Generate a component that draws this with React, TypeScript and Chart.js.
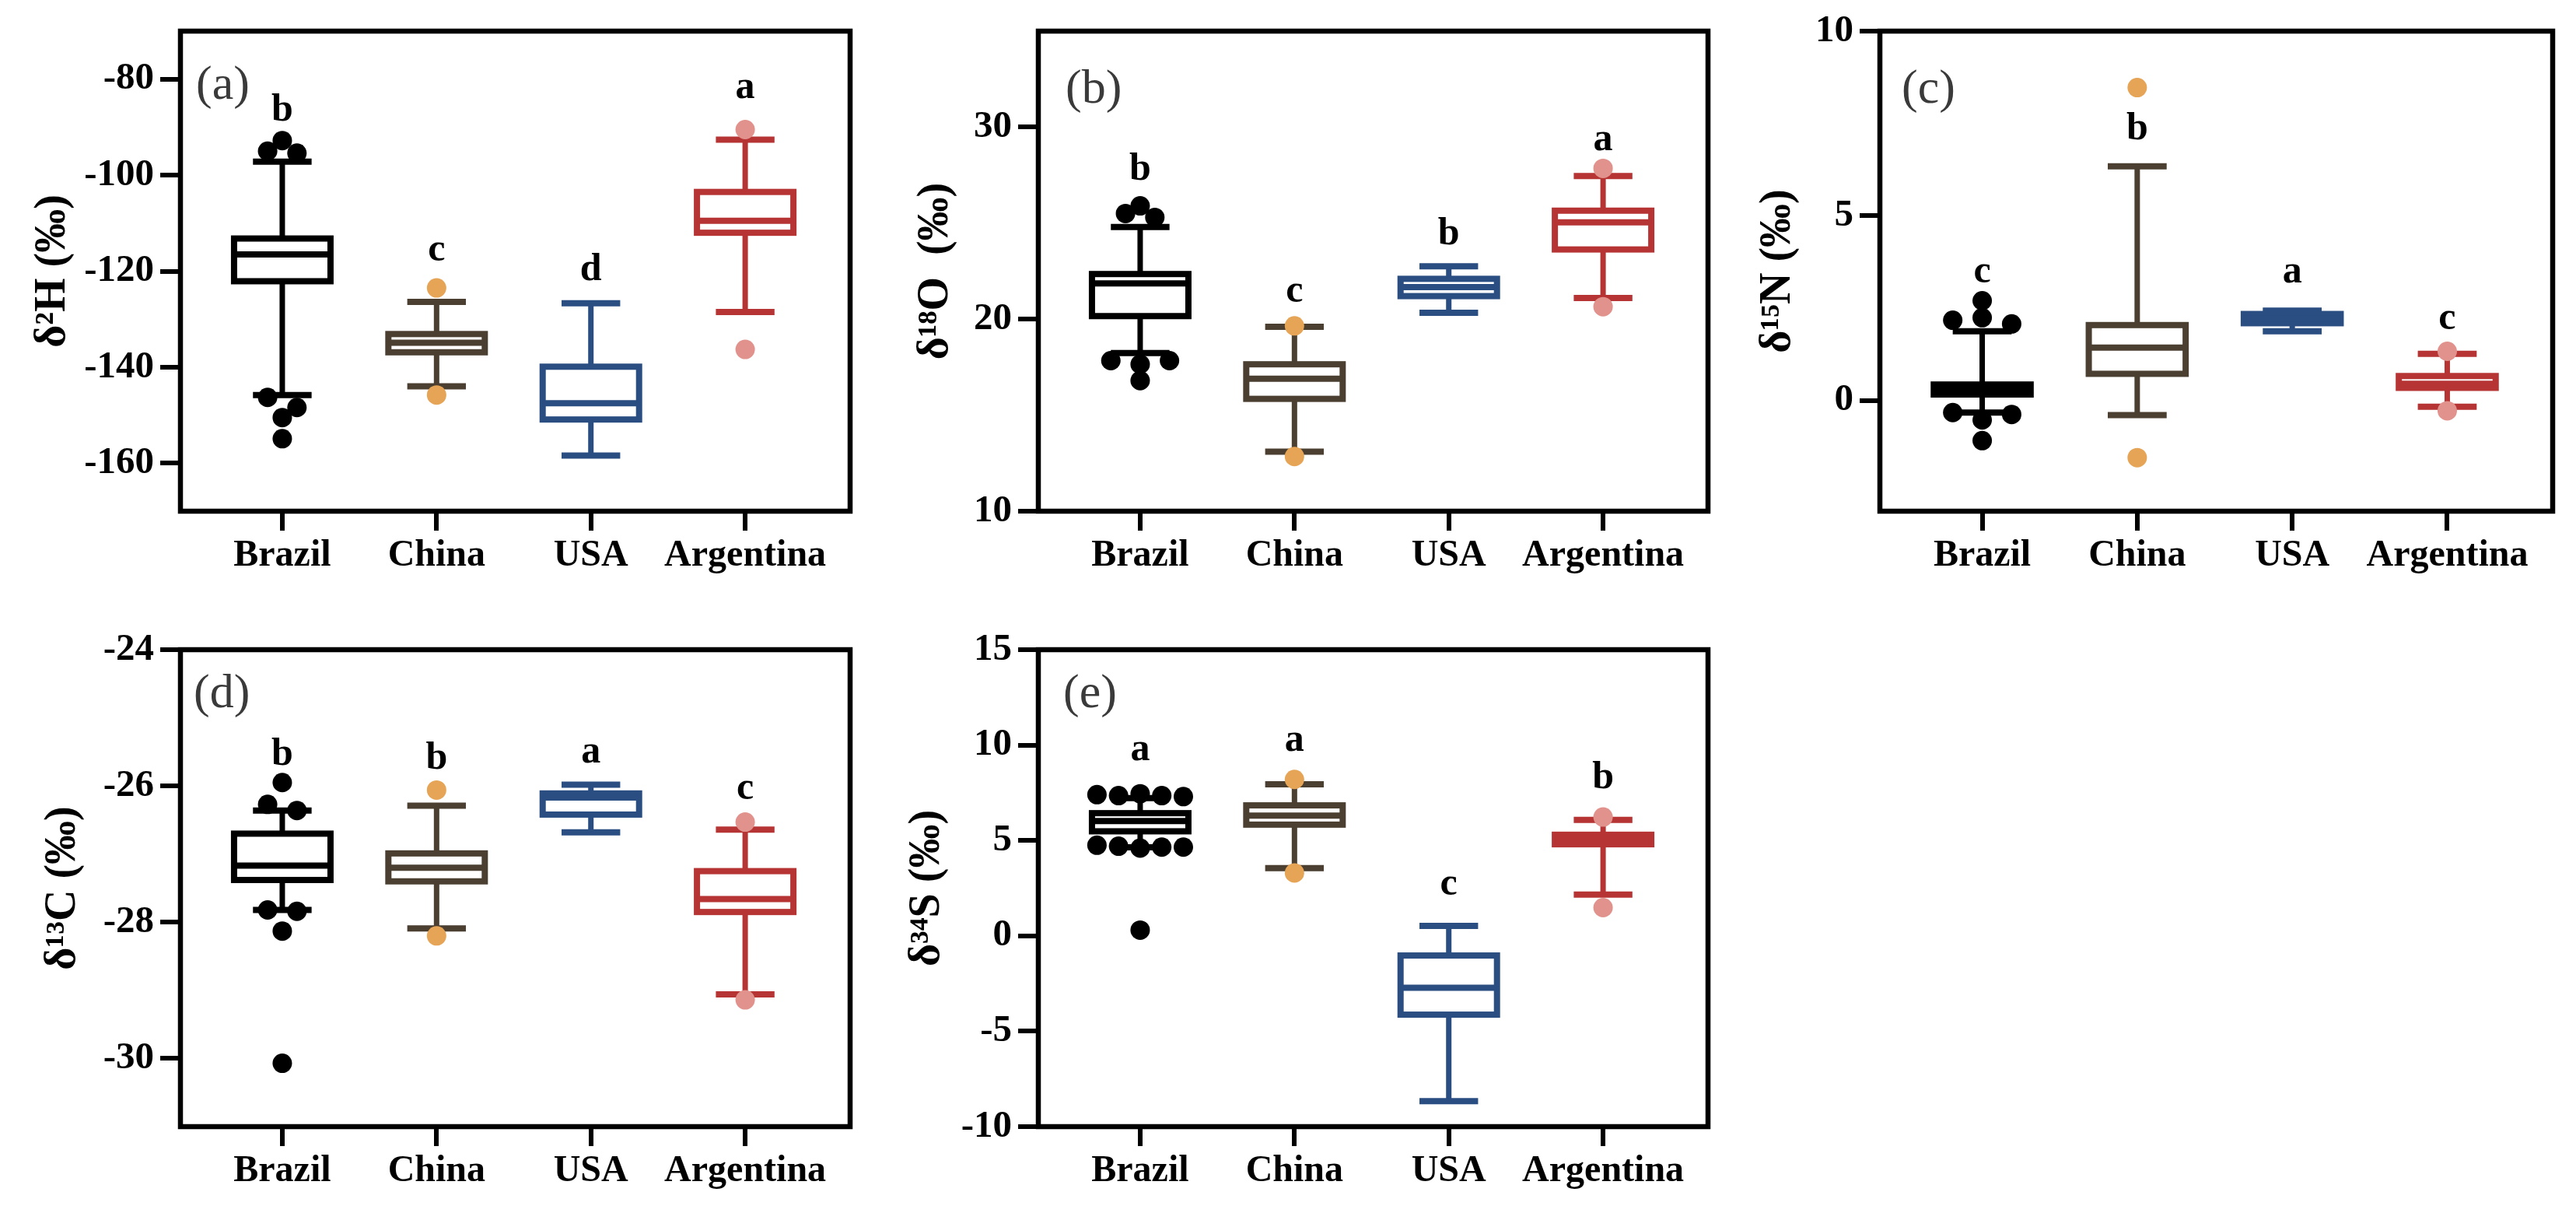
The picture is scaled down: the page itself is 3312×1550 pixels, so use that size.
import React, { useEffect, useRef } from "react";
import { Chart, registerables } from "chart.js";

Chart.register(...registerables);

const FONT = "'Liberation Serif', 'DejaVu Serif', serif";
Chart.defaults.font.family = FONT;

const categories = ["Brazil", "China", "USA", "Argentina"];
const strokeColors = ["#000000", "#4a3f30", "#2a4e82", "#b63434"];
const outlierColors = ["#000000", "#e5a456", "#2a4e82", "#e2928c"];

// (a) δ2H
const hLow = [-145.8, -144.0, -158.4, -128.5];
const hQ1 = [-122.1, -136.9, -150.9, -112.0];
const hMed = [-116.5, -134.9, -147.5, -109.5];
const hQ3 = [-113.2, -133.1, -139.9, -103.5];
const hHigh = [-97.2, -126.4, -126.7, -92.6];
const hOut = [[-92.8, -95.0, -95.4, -146.3, -148.4, -150.5, -154.9], [-123.5, -145.8], [], [-90.5, -136.3]];
const hLetters = ["b", "c", "d", "a"];
const hLetterY = [-88.7, -117.8, -121.8, -83.9];
const hTicks = [-160, -140, -120, -100, -80];
const hRange = [-170, -70];

// (b) δ18O
const oLow = [18.24, 13.1, 20.33, 21.1];
const oQ1 = [20.16, 15.85, 21.2, 23.63];
const oMed = [21.86, 16.9, 21.67, 25.04];
const oQ3 = [22.35, 17.65, 22.1, 25.65];
const oHigh = [24.8, 19.6, 22.75, 27.45];
const oOut = [[25.5, 25.9, 25.3, 17.84, 17.65, 17.84, 16.8], [19.65, 12.85], [], [27.85, 20.65]];
const oLetters = ["b", "c", "b", "a"];
const oLetterY = [27.25, 20.9, 23.9, 28.8];
const oTicks = [10, 20, 30];
const oRange = [10, 35];

// (c) δ15N
const nLow = [-0.33, -0.4, 1.87, -0.17];
const nQ1 = [0.16, 0.72, 2.09, 0.34];
const nMed = [0.3, 1.43, 2.22, 0.45];
const nQ3 = [0.43, 2.04, 2.34, 0.66];
const nHigh = [1.87, 6.34, 2.43, 1.26];
const nOut = [[2.17, 2.07, 2.24, 2.7, -0.33, -0.38, -0.53, -1.09], [8.47, -1.55], [], [1.33, -0.28]];
const nLetters = ["c", "b", "a", "c"];
const nLetterY = [3.19, 7.07, 3.19, 1.92];
const nTicks = [0, 5, 10];
const nRange = [-3, 10];

// (d) δ13C
const cLow = [-27.82, -28.09, -26.68, -29.06];
const cQ1 = [-27.38, -27.4, -26.42, -27.85];
const cMed = [-27.17, -27.2, -26.17, -27.66];
const cQ3 = [-26.7, -26.99, -26.11, -27.25];
const cHigh = [-26.36, -26.29, -25.98, -26.64];
const cOut = [[-26.36, -26.27, -25.95, -27.84, -27.82, -28.13, -30.07], [-26.06, -28.2], [], [-26.53, -29.14]];
const cLetters = ["b", "b", "a", "c"];
const cLetterY = [-25.69, -25.75, -25.66, -26.19];
const cTicks = [-30, -28, -26, -24];
const cRange = [-31, -24];

// (e) δ34S
const sLow = [4.64, 3.55, -8.66, 2.16];
const sQ1 = [5.48, 5.83, -4.13, 4.8];
const sMed = [6.02, 6.3, -2.72, 5.05];
const sQ3 = [6.43, 6.84, -1.03, 5.3];
const sHigh = [7.22, 7.94, 0.52, 6.08];
const sOut = [[7.4, 7.35, 7.45, 7.35, 7.3, 4.75, 4.65, 4.6, 4.65, 4.7, 0.3], [8.2, 3.3], [], [6.23, 1.48]];
const sLetters = ["a", "a", "c", "b"];
const sLetterY = [9.2, 9.7, 2.16, 7.73];
const sTicks = [-10, -5, 0, 5, 10, 15];
const sRange = [-10, 15];

type Layout = {
  left: number; top: number; width: number; height: number;
  yW: number; padR: number; padT: number; xH: number; titlePad: number;
  labelDx: number; labelDy: number;
};

type Panel = {
  label: string; title: string;
  low: number[]; q1: number[]; med: number[]; q3: number[]; high: number[];
  out: number[][]; letters: string[]; letterY: number[]; ticks: number[]; range: number[];
  layout: Layout;
};

const panels: Panel[] = [
  {
    label: "(a)", title: "δ²H (‰)", low: hLow, q1: hQ1, med: hMed, q3: hQ3, high: hHigh, out: hOut,
    letters: hLetters, letterY: hLetterY, ticks: hTicks, range: hRange,
    layout: { left: 0, top: 0, width: 1110, height: 760, yW: 232, padR: 17, padT: 40, xH: 103, titlePad: 35, labelDx: 20, labelDy: 71 },
  },
  {
    label: "(b)", title: "δ¹⁸O  (‰)", low: oLow, q1: oQ1, med: oMed, q3: oQ3, high: oHigh, out: oOut,
    letters: oLetters, letterY: oLetterY, ticks: oTicks, range: oRange,
    layout: { left: 1100, top: 0, width: 1110, height: 760, yW: 235, padR: 14, padT: 40, xH: 103, titlePad: 70, labelDx: 35, labelDy: 76 },
  },
  {
    label: "(c)", title: "δ¹⁵N (‰)", low: nLow, q1: nQ1, med: nMed, q3: nQ3, high: nHigh, out: nOut,
    letters: nLetters, letterY: nLetterY, ticks: nTicks, range: nRange,
    layout: { left: 2200, top: 0, width: 1112, height: 760, yW: 217, padR: 30, padT: 40, xH: 103, titlePad: 53, labelDx: 28, labelDy: 76 },
  },
  {
    label: "(d)", title: "δ¹³C (‰)", low: cLow, q1: cQ1, med: cMed, q3: cQ3, high: cHigh, out: cOut,
    letters: cLetters, letterY: cLetterY, ticks: cTicks, range: cRange,
    layout: { left: 0, top: 760, width: 1110, height: 790, yW: 232, padR: 17, padT: 75, xH: 102, titlePad: 48, labelDx: 17, labelDy: 58 },
  },
  {
    label: "(e)", title: "δ³⁴S (‰)", low: sLow, q1: sQ1, med: sMed, q3: sQ3, high: sHigh, out: sOut,
    letters: sLetters, letterY: sLetterY, ticks: sTicks, range: sRange,
    layout: { left: 1100, top: 760, width: 1110, height: 790, yW: 235, padR: 14, padT: 75, xH: 102, titlePad: 59, labelDx: 32, labelDy: 58 },
  },
];

const X_MIN = -0.66;
const X_MAX = 3.68;

function dodge(values: number[], med: number, y: any, unit: number) {
  const res: { v: number; dx: number }[] = [];
  const above = values.filter((v) => v > med).sort((a, b) => a - b);
  const below = values.filter((v) => v <= med).sort((a, b) => b - a);
  const binTol = 14;
  for (const group of [above, below]) {
    const bins: number[][] = [];
    let cur: number[] = [];
    let startPx = 0;
    for (const v of group) {
      const py = y.getPixelForValue(v);
      if (cur.length === 0) {
        cur = [v];
        startPx = py;
      } else if (Math.abs(py - startPx) <= binTol) {
        cur.push(v);
      } else {
        bins.push(cur);
        cur = [v];
        startPx = py;
      }
    }
    if (cur.length) bins.push(cur);
    for (const bin of bins) {
      const n = bin.length;
      const step = n <= 3 ? 0.19 * unit : (0.56 * unit) / (n - 1);
      const slots: number[] = [];
      for (let k = 0; k < n; k++) slots.push((k - (n - 1) / 2) * step);
      let rest = bin.slice();
      if (n % 2 === 1) {
        const far = rest[rest.length - 1];
        rest = rest.slice(0, -1);
        res.push({ v: far, dx: 0 });
        slots.splice((n - 1) / 2, 1);
      }
      rest.sort((a, b) => b - a);
      rest.forEach((v, k) => res.push({ v, dx: slots[k] }));
    }
  }
  return res;
}

function boxPlugin(p: Panel) {
  return {
    id: "boxplotDraw",
    afterDatasetsDraw(chart: any) {
      const { ctx, chartArea: a } = chart;
      const x = chart.scales.x;
      const y = chart.scales.y;
      ctx.save();
      const unit = x.getPixelForValue(1) - x.getPixelForValue(0);
      const boxHalf = 0.3125 * unit;
      const capHalf = 0.19 * unit;
      categories.forEach((_, i) => {
        const cx = x.getPixelForValue(i);
        const col = strokeColors[i];
        const yHi = y.getPixelForValue(p.high[i]);
        const yLo = y.getPixelForValue(p.low[i]);
        const yQ1 = y.getPixelForValue(p.q1[i]);
        const yQ3 = y.getPixelForValue(p.q3[i]);
        const yMed = y.getPixelForValue(p.med[i]);
        ctx.strokeStyle = col;
        ctx.lineCap = "butt";
        ctx.lineWidth = 7;
        ctx.beginPath();
        ctx.moveTo(cx, yHi);
        ctx.lineTo(cx, yQ3);
        ctx.moveTo(cx, yQ1);
        ctx.lineTo(cx, yLo);
        ctx.stroke();
        ctx.lineWidth = 8;
        ctx.beginPath();
        ctx.moveTo(cx - capHalf, yHi);
        ctx.lineTo(cx + capHalf, yHi);
        ctx.moveTo(cx - capHalf, yLo);
        ctx.lineTo(cx + capHalf, yLo);
        ctx.stroke();
        ctx.fillStyle = "#ffffff";
        ctx.fillRect(cx - boxHalf, yQ3, boxHalf * 2, yQ1 - yQ3);
        ctx.lineWidth = 8;
        ctx.strokeRect(cx - boxHalf, yQ3, boxHalf * 2, yQ1 - yQ3);
        ctx.beginPath();
        ctx.moveTo(cx - boxHalf, yMed);
        ctx.lineTo(cx + boxHalf, yMed);
        ctx.stroke();
        ctx.fillStyle = outlierColors[i];
        for (const o of dodge(p.out[i], p.med[i], y, unit)) {
          ctx.beginPath();
          ctx.arc(cx + o.dx, y.getPixelForValue(o.v), 12.5, 0, Math.PI * 2);
          ctx.fill();
        }
        ctx.fillStyle = "#000";
        ctx.font = `bold 50px ${FONT}`;
        ctx.textAlign = "center";
        ctx.textBaseline = "alphabetic";
        ctx.fillText(p.letters[i], cx, y.getPixelForValue(p.letterY[i]));
      });
      ctx.strokeStyle = "#000";
      ctx.lineWidth = 6.5;
      ctx.strokeRect(a.left, a.top, a.right - a.left, a.bottom - a.top);
      ctx.fillStyle = "#3a3a3a";
      ctx.font = `62px ${FONT}`;
      ctx.textAlign = "left";
      ctx.textBaseline = "middle";
      ctx.fillText(p.label, a.left + p.layout.labelDx, a.top + p.layout.labelDy);
      ctx.restore();
    },
  };
}

function PanelChart({ panel }: { panel: Panel }) {
  const ref = useRef<HTMLCanvasElement | null>(null);
  useEffect(() => {
    if (!ref.current) return;
    const L = panel.layout;
    const chart = new Chart(ref.current, {
      type: "scatter",
      data: { datasets: [] },
      options: {
        animation: false,
        responsive: true,
        maintainAspectRatio: false,
        layout: { padding: { left: 0, right: L.padR, top: L.padT, bottom: 0 } },
        plugins: { legend: { display: false }, tooltip: { enabled: false } },
        scales: {
          x: {
            type: "linear",
            min: X_MIN,
            max: X_MAX,
            afterBuildTicks: (s: any) => {
              s.ticks = categories.map((_, i) => ({ value: i }));
            },
            afterFit: (s: any) => {
              s.height = L.xH;
            },
            grid: { drawOnChartArea: false, drawTicks: true, tickLength: 25, lineWidth: 6, color: "#000" },
            border: { display: false },
            ticks: {
              autoSkip: false,
              maxRotation: 0,
              padding: 4,
              color: "#000",
              font: { family: FONT, size: 48, weight: "bold" },
              callback: (v: any) => categories[Math.round(Number(v))] ?? "",
            },
          },
          y: {
            type: "linear",
            min: panel.range[0],
            max: panel.range[1],
            afterBuildTicks: (s: any) => {
              s.ticks = panel.ticks.map((v) => ({ value: v }));
            },
            afterFit: (s: any) => {
              s.width = L.yW;
            },
            grid: { drawOnChartArea: false, drawTicks: true, tickLength: 26, lineWidth: 6, color: "#000" },
            border: { display: false },
            ticks: {
              padding: 8,
              color: "#000",
              font: { family: FONT, size: 49, weight: "bold" },
            },
            title: {
              display: true,
              text: panel.title,
              color: "#000",
              font: { family: FONT, size: 56, weight: "bold" },
              padding: { top: L.titlePad, bottom: 0 },
            },
          },
        },
      },
      plugins: [boxPlugin(panel)],
    } as any);
    return () => chart.destroy();
  }, [panel]);
  const L = panel.layout;
  return (
    <div style={{ position: "absolute", left: L.left, top: L.top, width: L.width, height: L.height }}>
      <canvas ref={ref} />
    </div>
  );
}

export default function App() {
  return (
    <div style={{ position: "fixed", left: 0, top: 0, width: 3312, height: 1550, background: "#ffffff", overflow: "hidden" }}>
      {panels.map((p) => (
        <PanelChart key={p.label} panel={p} />
      ))}
    </div>
  );
}
